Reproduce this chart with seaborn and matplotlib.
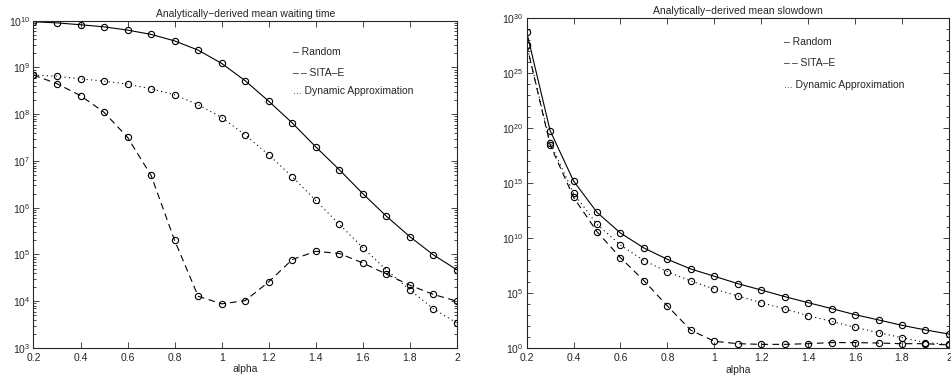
import numpy as np
import pandas as pd
import matplotlib
matplotlib.use("Agg")
import matplotlib.pyplot as plt
import matplotlib.ticker as mticker
import seaborn as sns

alpha = [0.2, 0.3, 0.4, 0.5, 0.6, 0.7, 0.8, 0.9, 1.0, 1.1,
         1.2, 1.3, 1.4, 1.5, 1.6, 1.7, 1.8, 1.9, 2.0]

# mean waiting time (left panel)
wait_random = [9.5e9, 9.0e9, 8.2e9, 7.4e9, 6.3e9, 5.1e9, 3.7e9, 2.35e9, 1.22e9, 5.2e8,
               1.9e8, 6.5e7, 2.0e7, 6.5e6, 2.0e6, 6.6e5, 2.4e5, 9.8e4, 4.7e4]
wait_sita = [6.9e8, 4.5e8, 2.5e8, 1.1e8, 3.2e7, 4.9e6, 2.0e5, 1.28e4, 8.8e3, 1.03e4,
             2.6e4, 7.8e4, 1.17e5, 1.05e5, 6.6e4, 3.8e4, 2.2e4, 1.4e4, 1.0e4]
wait_dyn = [6.9e8, 6.5e8, 5.7e8, 5.1e8, 4.4e8, 3.5e8, 2.6e8, 1.6e8, 8.5e7, 3.6e7,
            1.35e7, 4.6e6, 1.43e6, 4.4e5, 1.4e5, 4.7e4, 1.75e4, 6.9e3, 3.4e3]

# mean slowdown (right panel), log10 values
slow_random_log = [28.76, 19.79, 15.21, 12.36, 10.48, 9.12, 8.09, 7.21, 6.55, 5.88,
                   5.30, 4.70, 4.15, 3.61, 3.06, 2.58, 2.09, 1.67, 1.30]
slow_sita_log = [27.6, 18.5, 13.73, 10.6, 8.24, 6.15, 3.85, 1.64, 0.64, 0.42,
                 0.36, 0.36, 0.42, 0.52, 0.52, 0.48, 0.42, 0.42, 0.30]
slow_dyn_log = [27.6, 18.7, 14.09, 11.27, 9.39, 7.97, 6.97, 6.12, 5.39, 4.76,
                4.15, 3.58, 2.97, 2.45, 1.91, 1.42, 0.97, 0.52, 0.36]

titles = ["Analytically\u2212derived mean waiting time",
          "Analytically\u2212derived mean slowdown"]
legend_lines = ["\u2013 Random", "\u2013\u2009\u2013 SITA\u2013E", "... Dynamic Approximation"]

sns.set_style("ticks")
plt.rcParams["font.family"] = ["Liberation Sans", "DejaVu Sans"]
plt.rcParams["mathtext.default"] = "regular"
plt.rcParams["font.size"] = 7.5

fig = plt.figure(figsize=(9.51, 3.81), dpi=100)
ax1 = fig.add_axes([0.0352, 0.0866, 0.4453, 0.859])
ax2 = fig.add_axes([0.5538, 0.0858, 0.4440, 0.866])

# solid / dashed / dotted
dash_patterns = [None, (6, 4), (1, 3)]


def draw(ax, series):
    for vals, dash in zip(series, dash_patterns):
        df = pd.DataFrame({"alpha": alpha, "val": vals})
        sns.lineplot(data=df, x="alpha", y="val", ax=ax, color="black",
                     linewidth=0.8, marker="o", markersize=4.5,
                     markerfacecolor="none", markeredgecolor="black",
                     markeredgewidth=0.8)
        if dash is not None:
            ax.lines[-1].set_dashes(dash)


draw(ax1, [wait_random, wait_sita, wait_dyn])
draw(ax2, [10 ** np.array(slow_random_log), 10 ** np.array(slow_sita_log),
           10 ** np.array(slow_dyn_log)])

for ax in (ax1, ax2):
    ax.set_yscale("log")
    ax.set_xlim(0.2, 2)
    ax.set_xticks(np.arange(0.2, 2.01, 0.2))
    ax.xaxis.set_major_formatter(mticker.FuncFormatter(lambda v, p: f"{v:g}"))
    ax.set_xlabel("alpha", fontsize=7.5, labelpad=1)
    ax.set_ylabel("")
    ax.tick_params(direction="in", which="both", top=True, right=True,
                   labelsize=7.5, pad=2, width=0.6)
    ax.tick_params(axis="x", pad=3.5)
    ax.tick_params(which="major", length=4)
    ax.tick_params(which="minor", length=2)
    for s in ax.spines.values():
        s.set_linewidth(0.8)
        s.set_visible(True)

ax1.set_ylim(1e3, 1e10)
ax1.yaxis.set_major_locator(mticker.LogLocator(base=10, numticks=20))
ax1.yaxis.set_minor_locator(mticker.LogLocator(base=10, subs=np.arange(2, 10), numticks=20))
ax1.yaxis.set_major_formatter(mticker.LogFormatterSciNotation())

ax2.set_ylim(1e0, 1e30)
ax2.set_yticks([10.0 ** k for k in range(0, 31, 5)])
ax2.yaxis.set_minor_locator(mticker.FixedLocator([10.0 ** k for k in range(0, 31)]))
ax2.yaxis.set_minor_formatter(mticker.NullFormatter())
ax2.yaxis.set_major_formatter(mticker.LogFormatterSciNotation())

ax1.set_title(titles[0], fontsize=7.5, pad=3)
ax2.set_title(titles[1], fontsize=7.5, pad=3)

# text-only legend, as in the original
for ax, x0, ys in ((ax1, 0.613, [0.904, 0.840, 0.785]), (ax2, 0.61, [0.929, 0.864, 0.798])):
    for t, y in zip(legend_lines, ys):
        ax.text(x0, y, t, transform=ax.transAxes, fontsize=7.5, va="center", ha="left")

fig.savefig("out.png", dpi=100)
